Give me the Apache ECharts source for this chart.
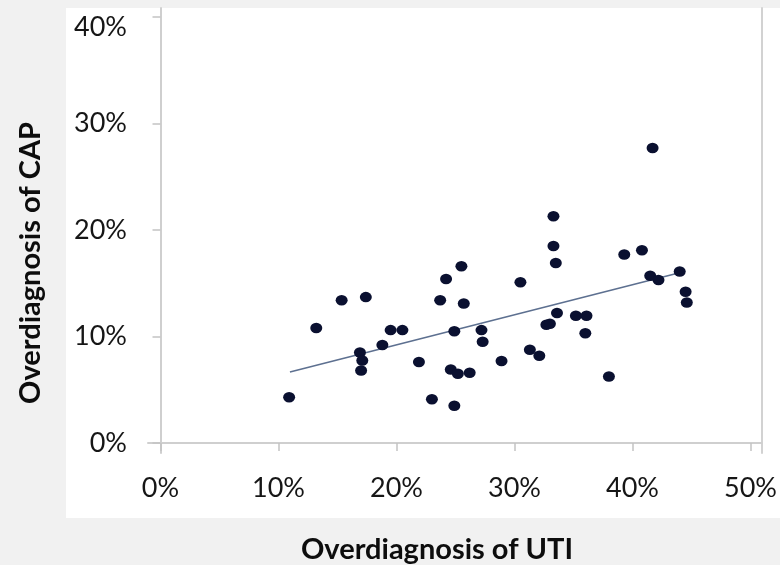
<!DOCTYPE html>
<html>
<head>
<meta charset="utf-8">
<script src="https://cdn.jsdelivr.net/npm/echarts@6/dist/echarts.min.js"></script>
<style>
  html, body { margin: 0; padding: 0; background: #f1f1f1; }
  #chart { width: 780px; height: 565px; }
</style>
</head>
<body>
<div id="chart"></div>
<script>
// overdiagnosis per site, in percent
const utiRate = [10.9, 13.2, 15.35, 17.4, 16.9, 17.1, 17.0, 18.8, 19.5, 20.5,
  21.9, 23.0, 23.7, 24.2, 25.5, 25.7, 24.9, 24.6, 25.2, 26.2,
  24.9, 27.2, 27.3, 28.9, 30.5, 31.3, 32.1, 32.7, 33.0, 33.3,
  33.3, 33.5, 33.6, 35.2, 36.1, 36.0, 38.0, 39.3, 40.8, 41.7,
  41.5, 42.2, 44.0, 44.5, 44.6];
const capRate = [4.3, 10.8, 13.4, 13.7, 8.5, 7.75, 6.8, 9.2, 10.6, 10.6,
  7.6, 4.1, 13.4, 15.4, 16.6, 13.1, 10.5, 6.9, 6.5, 6.6,
  3.5, 10.6, 9.5, 7.7, 15.1, 8.75, 8.2, 11.1, 11.2, 21.3,
  18.5, 16.9, 12.2, 11.95, 11.95, 10.3, 6.25, 17.7, 18.1, 27.7,
  15.7, 15.3, 16.1, 14.2, 13.2];

// fitted line end points
const trendX = [10.97, 44.4];
const trendY = [6.67, 16.1];

const xTicks = [0, 10, 20, 30, 40, 50];
const yTicks = [0, 10, 20, 30, 40];

const chart = echarts.init(document.getElementById('chart'));

const labelFont = { fontFamily: 'Lato', fontSize: 27, color: '#161616' };
const titleFont = 'bold 29px Lato';

chart.setOption({
  backgroundColor: 'transparent',
  animation: false,
  grid: { left: 148, right: 11, top: 8, bottom: 112 },
  graphic: [
    {
      type: 'rect', z: -10, silent: true,
      shape: { x: 66, y: 8, width: 714, height: 510 },
      style: { fill: '#ffffff' }
    },
    {
      type: 'text', x: 437, y: 550,
      style: { text: 'Overdiagnosis of UTI', font: titleFont, fill: '#0d0d0d',
        align: 'center', verticalAlign: 'middle' }
    },
    {
      type: 'text', x: 31, y: 263, rotation: Math.PI / 2,
      style: { text: 'Overdiagnosis of CAP', font: titleFont, fill: '#0d0d0d',
        align: 'center', verticalAlign: 'middle' }
    }
  ],
  xAxis: {
    type: 'value', min: -1.06, max: 50.95,
    axisLine: { show: true, lineStyle: { color: '#cfcfcf', width: 2 } },
    axisTick: { show: true, customValues: xTicks, length: 8, lineStyle: { color: '#c4c4c4', width: 1.5 } },
    axisLabel: Object.assign({ customValues: xTicks, margin: 22, formatter: v => v + '%' }, labelFont),
    splitLine: { show: false }
  },
  yAxis: [
    {
      type: 'value', min: -0.94, max: 40.85,
      axisLine: { show: true, lineStyle: { color: '#cfcfcf', width: 2 } },
      axisTick: { show: true, customValues: yTicks, length: 8, lineStyle: { color: '#c4c4c4', width: 1.5 } },
      axisLabel: Object.assign({
        customValues: yTicks, margin: 21,
        formatter: v => v === 40 ? '{t|' + v + '%}' : v + '%',
        rich: { t: { fontFamily: 'Lato', fontSize: 27, color: '#161616', padding: [20, 0, 0, 0] } }
      }, labelFont),
      splitLine: { show: false }
    },
    {
      type: 'value', position: 'right', min: -0.94, max: 40.85,
      axisLine: { show: true, lineStyle: { color: '#d2d2d2', width: 2 } },
      axisTick: { show: false }, axisLabel: { show: false }, splitLine: { show: false }
    }
  ],
  series: [
    {
      type: 'line',
      data: trendX.map((x, i) => [x, trendY[i]]),
      showSymbol: false,
      lineStyle: { color: '#5d7090', width: 1.6 },
      z: 3
    },
    {
      type: 'scatter',
      data: utiRate.map((x, i) => [x, capRate[i]]),
      symbolSize: [12, 10.5],
      itemStyle: { color: '#0a1030', opacity: 1 },
      z: 4
    }
  ]
});
</script>
</body>
</html>
